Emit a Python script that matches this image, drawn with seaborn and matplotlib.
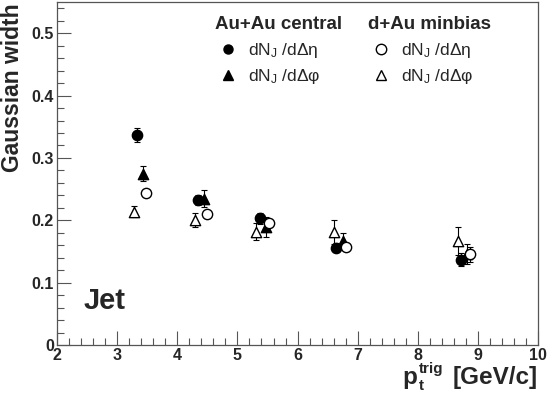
import numpy as np
import pandas as pd
import seaborn as sns
import matplotlib.pyplot as plt
from matplotlib.ticker import MultipleLocator
from matplotlib.lines import Line2D

# Au+Au central, dN_J/d(delta eta)
auau_eta_x = [3.33, 4.34, 5.37, 6.64, 8.71]
auau_eta_y = [0.337, 0.232, 0.203, 0.156, 0.137]
auau_eta_err = [0.011, 0.008, 0.009, 0.007, 0.010]

# Au+Au central, dN_J/d(delta phi)
auau_phi_x = [3.43, 4.45, 5.47, 6.75, 8.82]
auau_phi_y = [0.275, 0.235, 0.190, 0.167, 0.146]
auau_phi_err = [0.012, 0.014, 0.016, 0.013, 0.016]

# d+Au minbias, dN_J/d(delta eta)
dau_eta_x = [3.48, 4.49, 5.53, 6.81, 8.87]
dau_eta_y = [0.244, 0.210, 0.196, 0.157, 0.146]
dau_eta_err = [0.004, 0.004, 0.005, 0.005, 0.012]

# d+Au minbias, dN_J/d(delta phi)
dau_phi_x = [3.28, 4.30, 5.31, 6.60, 8.66]
dau_phi_y = [0.214, 0.200, 0.182, 0.181, 0.167]
dau_phi_err = [0.009, 0.011, 0.014, 0.019, 0.022]

eta_lbl = r"dN$_{\rm J}$ /dΔη"
phi_lbl = r"dN$_{\rm J}$ /dΔφ"

sns.set_style("white")
plt.rcParams['font.family'] = ['Liberation Sans', 'DejaVu Sans']
plt.rcParams['mathtext.fontset'] = 'custom'
plt.rcParams['mathtext.rm'] = 'Liberation Sans'
plt.rcParams['mathtext.it'] = 'Liberation Sans:italic'
plt.rcParams['mathtext.bf'] = 'Liberation Sans:bold'

fig = plt.figure(figsize=(5.47, 3.94), dpi=100)
ax = fig.add_axes([0.104, 0.124, 0.880, 0.871])

series = [
    (auau_eta_x, auau_eta_y, auau_eta_err, 'o', 'black'),
    (auau_phi_x, auau_phi_y, auau_phi_err, '^', 'black'),
    (dau_eta_x, dau_eta_y, dau_eta_err, 'o', 'white'),
    (dau_phi_x, dau_phi_y, dau_phi_err, '^', 'white'),
]
for xs, ys, es, mk, fc in series:
    ax.errorbar(xs, ys, yerr=es, fmt='none', ecolor='black', elinewidth=0.8,
                capsize=2, capthick=0.8, zorder=2)
    sns.scatterplot(x=xs, y=ys, marker=mk, s=55, color=fc, edgecolor='black',
                    linewidth=1.0, ax=ax, zorder=3)

ax.set_xlim(2, 10)
ax.set_ylim(0, 0.55)
ax.xaxis.set_major_locator(MultipleLocator(1))
ax.xaxis.set_minor_locator(MultipleLocator(0.2))
ax.yaxis.set_major_locator(MultipleLocator(0.1))
ax.yaxis.set_minor_locator(MultipleLocator(0.02))
ax.tick_params(which='both', direction='in', top=False, right=False,
               bottom=True, left=True, width=0.8, color='#555555')
ax.tick_params(which='major', length=10, labelsize=11.5, pad=2)
ax.tick_params(which='minor', length=5)
ax.set_xticklabels([f"{v:g}" for v in ax.get_xticks()], fontweight='bold')
ax.set_yticklabels([f"{v:g}" for v in ax.get_yticks()], fontweight='bold')
for s in ax.spines.values():
    s.set_color('#555555')
    s.set_linewidth(0.9)

ax.set_ylabel("Gaussian width", fontsize=16.5, fontweight='bold', loc='top')
ax.yaxis.set_label_coords(-0.068, 0.995)

# x axis title built from pieces: p, subscript t, superscript trig, [GeV/c]
tr = ax.transAxes
ax.text(0.718, -0.114, "p", transform=tr, fontsize=17.5, fontweight='bold',
        ha='left', va='baseline')
ax.text(0.752, -0.130, "t", transform=tr, fontsize=11, fontweight='bold',
        ha='left', va='baseline')
ax.text(0.752, -0.080, "trig", transform=tr, fontsize=11, fontweight='bold',
        ha='left', va='baseline')
ax.text(1.0, -0.114, "[GeV/c]", transform=tr, fontsize=17.5, fontweight='bold',
        ha='right', va='baseline')

ax.text(2.45, 0.07, "Jet", fontsize=21, fontweight='bold', va='center')

h1 = [Line2D([], [], marker='o', ls='none', color='black', markersize=6.5),
      Line2D([], [], marker='^', ls='none', color='black', markersize=6.5)]
h2 = [Line2D([], [], marker='o', ls='none', mfc='white', mec='black', markersize=7.5),
      Line2D([], [], marker='^', ls='none', mfc='white', mec='black', markersize=7.5)]
leg_kw = dict(loc='upper left', frameon=False, fontsize=12.5,
              title_fontproperties={'weight': 'bold', 'size': 13.5},
              alignment='left', handletextpad=0.4, labelspacing=0.45,
              handlelength=1.5, borderpad=0.2)
leg1 = ax.legend(h1, [eta_lbl, phi_lbl], title="Au+Au central",
                 bbox_to_anchor=(0.303, 0.995), **leg_kw)
ax.add_artist(leg1)
ax.legend(h2, [eta_lbl, phi_lbl], title="d+Au minbias",
          bbox_to_anchor=(0.622, 0.995), **leg_kw)

fig.savefig("out.png", dpi=100)
